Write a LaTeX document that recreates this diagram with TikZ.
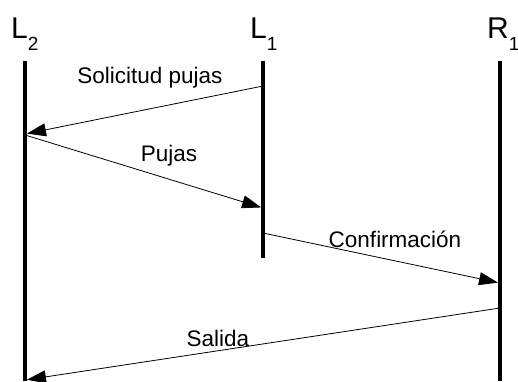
\documentclass[tikz,border=0pt]{standalone}
\usepackage{fontspec}
\setmainfont{Liberation Sans}
\usetikzlibrary{arrows.meta}

\begin{document}
\begin{tikzpicture}[
  x=1pt, y=-1pt,
  life/.style={line width=4.5pt},
  msg/.style={line width=0.8pt, shorten >=2pt, -{Triangle[length=19pt,width=13pt]}},
  lbl/.style={font=\fontsize{22.5}{24}\selectfont, inner sep=0pt, anchor=base},
  head/.style={font=\fontsize{30}{32}\selectfont, inner sep=0pt, anchor=base west},
]
\useasboundingbox (0,0) rectangle (518,381);

\node [head] (L2) at (11,38) {L\raisebox{-12pt}{\fontsize{19}{19}\selectfont 2}};
\node [head] (L1) at (250,38) {L\raisebox{-12pt}{\fontsize{19}{19}\selectfont 1}};
\node [head] (R1) at (487,38) {R\raisebox{-12pt}{\fontsize{19}{19}\selectfont 1}};

\coordinate (l2top) at (25,61);
\coordinate (l2bot) at (25,381);
\coordinate (l1top) at (263,61);
\coordinate (l1bot) at (263,258);
\coordinate (r1top) at (500,61);
\coordinate (r1bot) at (500,381);
\draw [life] (l2top) -- (l2bot);
\draw [life] (l1top) -- (l1bot);
\draw [life] (r1top) -- (r1bot);

\coordinate (l1a) at (263,86);
\coordinate (l2a) at (25,134);
\coordinate (l2b) at (25,135);
\coordinate (l1b) at (263,208);
\coordinate (l1c) at (263,233);
\coordinate (r1c) at (500,283);
\coordinate (r1d) at (500,308);
\coordinate (l2d) at (25,380);

\draw [msg] (l1a) -- (l2a);
\draw [msg] (l2b) -- (l1b);
\draw [msg] (l1c) -- (r1c);
\draw [msg] (r1d) -- (l2d);

\node [lbl] (solicitud) at (150,83) {Solicitud pujas};
\node [lbl] (pujas) at (169,161) {Pujas};
\node [lbl] (confirm) at (395,247) {Confirmación};
\node [lbl] (salida) at (218,346) {Salida};

\end{tikzpicture}
\end{document}
